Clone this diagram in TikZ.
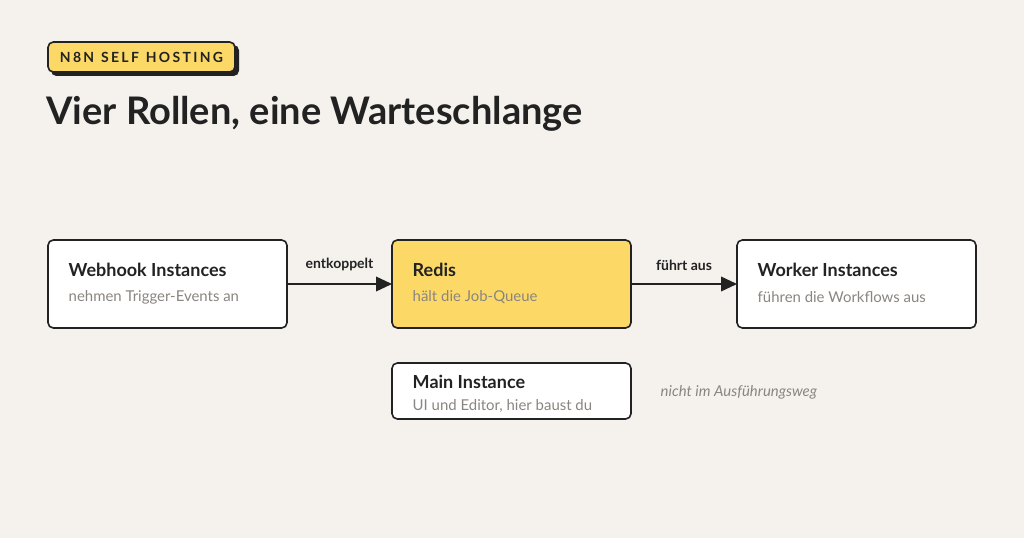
\documentclass[tikz,border=0pt]{standalone}
\usepackage{fontspec}
\setmainfont{Lato}
\usetikzlibrary{arrows.meta}
\definecolor{bg}{HTML}{F5F2EE}
\definecolor{ink}{HTML}{222222}
\definecolor{yel}{HTML}{FCD966}
\definecolor{sub}{HTML}{8A8580}
\begin{document}
\begin{tikzpicture}[x=0.75pt,y=-0.75pt,
 box/.style={draw=ink,line width=1.2pt,rounded corners=4pt,fill=white},
 ttl/.style={anchor=west,font=\fontsize{13.5pt}{15pt}\selectfont\bfseries,text=ink},
 sbt/.style={anchor=west,font=\fontsize{11.2pt}{13pt}\selectfont,text=sub},
 arr/.style={draw=ink,line width=1.2pt,-{Triangle[length=12pt,width=11pt]}},
 lbl/.style={font=\fontsize{10.5pt}{12pt}\selectfont\bfseries,text=ink}]
\fill[bg] (0,0) rectangle (1024,538);
\useasboundingbox (0,0) rectangle (1024,538);
% badge
\fill[ink,rounded corners=4pt] (51,45) rectangle (239,76);
\draw[ink,fill=yel,line width=1.2pt,rounded corners=4pt] (48,42) rectangle (235,72);
\node[font=\fontsize{10.5pt}{12pt}\selectfont\bfseries,text=ink] (badge) at (141.5,57.5) {N\,8\,N\ \ S\,E\,L\,F\ \ H\,O\,S\,T\,I\,N\,G};
\node[anchor=base west,font=\fontsize{28.5pt}{32pt}\selectfont\bfseries,text=ink,inner sep=0] (title) at (46,125) {Vier Rollen, eine Warteschlange};
% boxes
\draw[box] (48,240) rectangle (287,328); \coordinate (w) at (287,284);
\draw[box,fill=yel] (392,240) rectangle (631,328); \coordinate (rl) at (392,284); \coordinate (rr) at (631,284);
\draw[box] (737,240) rectangle (976,328); \coordinate (k) at (737,284);
\draw[box] (392,363) rectangle (631,419);
\node[ttl] (t1) at (64,270) {Webhook Instances};
\node[sbt] (s1) at (64,297) {nehmen Trigger-Events an};
\node[ttl] (t2) at (408,270) {Redis};
\node[sbt] (s2) at (408,297) {hält die Job-Queue};
\node[ttl] (t3) at (753,270) {Worker Instances};
\node[sbt] (s3) at (753,297) {führen die Workflows aus};
\node[ttl] (t4) at (408,382) {Main Instance};
\node[sbt] (s4) at (408,406) {UI und Editor, hier baust du};
\draw[arr] (w) -- (rl) node[lbl,midway,above=6pt] {entkoppelt};
\draw[arr] (rr) -- (k) node[lbl,midway,above=6pt] {führt aus};
\node[anchor=west,font=\fontsize{11.2pt}{13pt}\selectfont\itshape,text=sub] (n) at (656,392) {nicht im Ausführungsweg};
\end{tikzpicture}
\end{document}
